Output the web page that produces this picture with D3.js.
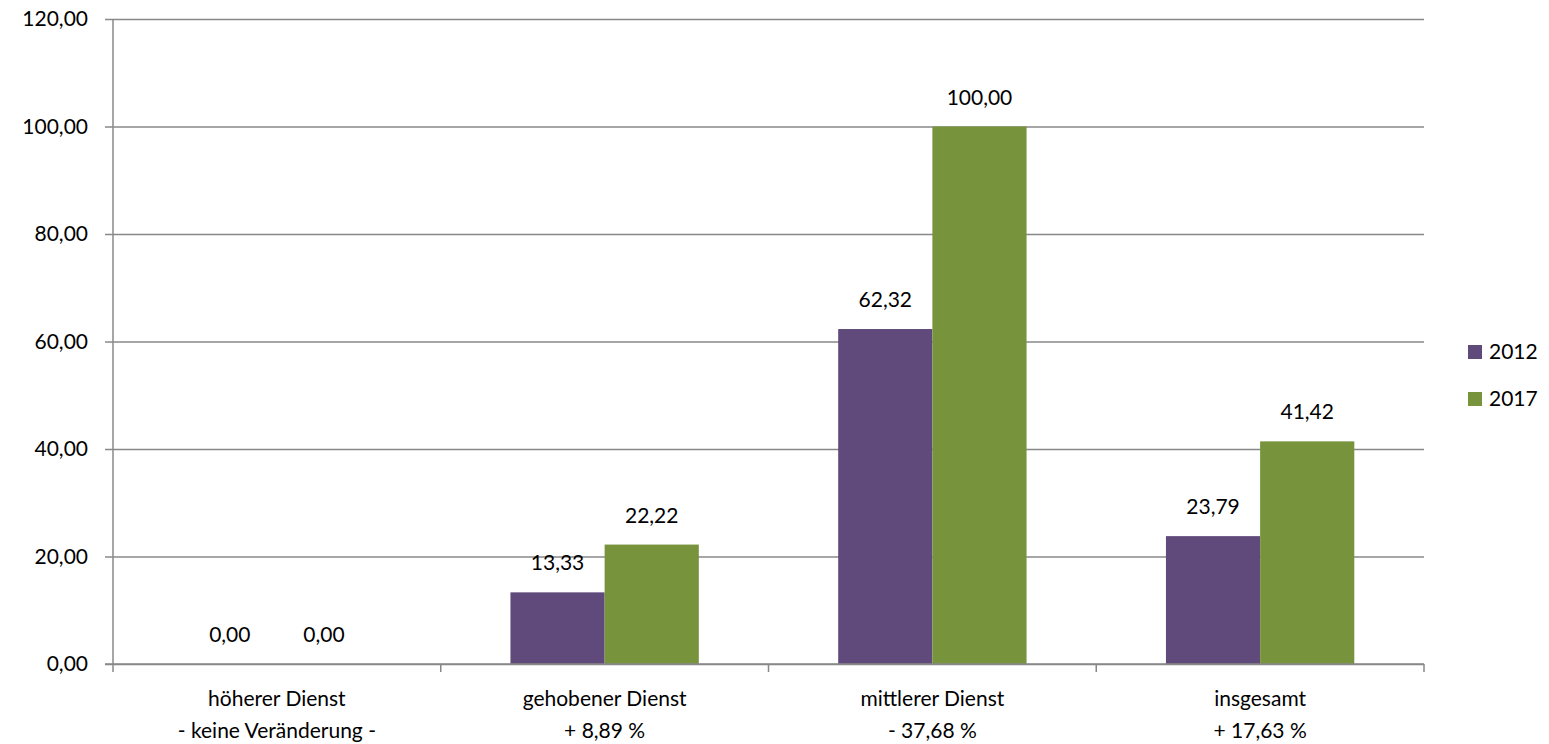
<!DOCTYPE html>
<html>
<head>
<meta charset="utf-8">
<script src="https://cdn.jsdelivr.net/npm/d3@7"></script>
<style>
  body { margin: 0; background: #fff; }
  text { font-family: Lato, "Open Sans", sans-serif; fill: #000; }
</style>
</head>
<body>
<svg id="chart"></svg>
<script>
const categories = [
    ["höherer Dienst", "- keine Veränderung -"],
    ["gehobener Dienst", "+ 8,89 %"],
    ["mittlerer Dienst", "- 37,68 %"],
    ["insgesamt", "+ 17,63 %"]
]
const years = ["2012", "2017"]
const values2012 = [0.00, 13.33, 62.32, 23.79]
const values2017 = [0.00, 22.22, 100.00, 41.42]
const yTicks = [0, 20, 40, 60, 80, 100, 120]
const colors = ["#604a7b", "#77933c"]

const svgWidth = 1549
const svgHeight = 744
const margin = ({top: 19, right: 125, bottom: 80, left: 113})
const width = svgWidth - margin.left - margin.right
const height = svgHeight - margin.top - margin.bottom
const fontSize = "21px"

const fmt = v => v.toFixed(2).replace(".", ",")

const svg = d3.select("#chart")
    .attr("width", svgWidth)
    .attr("height", svgHeight)

const g = svg.append("g")
    .attr("transform", `translate(${margin.left}, ${margin.top})`)

const xScale = d3.scaleBand()
    .domain(d3.range(categories.length))
    .range([0, width])

const inner = d3.scaleBand()
    .domain(years)
    .range([0, xScale.bandwidth()])
    .paddingOuter(0.74)

const yScale = d3.scaleLinear()
    .domain([0, 120])
    .range([height, 0])

// gridlines + y ticks
g.append("g")
    .call(d3.axisLeft(yScale).tickValues(yTicks).tickSize(-width - 8).tickFormat(fmt))
    .call(a => a.select(".domain").remove())
    .call(a => a.selectAll("line").attr("x1", -8).attr("x2", width).attr("stroke", "#888").attr("stroke-width", 1.5))
    .call(a => a.selectAll("text").attr("x", -25).style("font-size", fontSize).style("font-family", "Lato, sans-serif"))

// y axis line
g.append("line")
    .attr("x1", 0).attr("x2", 0)
    .attr("y1", 0).attr("y2", height)
    .attr("stroke", "#888").attr("stroke-width", 1.5)

const series = [values2012, values2017]

const groups = g.selectAll(".cat")
    .data(categories)
    .join("g")
    .attr("class", "cat")
    .attr("transform", (d, i) => `translate(${xScale(i)}, 0)`)

years.forEach((yr, s) => {
    groups.append("rect")
        .attr("x", inner(yr))
        .attr("width", inner.bandwidth())
        .attr("y", (d, i) => yScale(series[s][i]))
        .attr("height", (d, i) => height - yScale(series[s][i]))
        .attr("fill", colors[s])

    groups.append("text")
        .attr("x", inner(yr) + inner.bandwidth() / 2)
        .attr("y", (d, i) => yScale(series[s][i]) - 22)
        .attr("text-anchor", "middle")
        .style("font-size", fontSize)
        .text((d, i) => fmt(series[s][i]))
})

// x axis line and ticks
g.append("line")
    .attr("x1", -8).attr("x2", width)
    .attr("y1", height).attr("y2", height)
    .attr("stroke", "#888").attr("stroke-width", 1.5)

g.selectAll(".xtick")
    .data(d3.range(categories.length + 1))
    .join("line")
    .attr("class", "xtick")
    .attr("x1", i => i * xScale.step()).attr("x2", i => i * xScale.step())
    .attr("y1", height).attr("y2", height + 8)
    .attr("stroke", "#888").attr("stroke-width", 1.5)

// category labels
groups.each(function(d) {
    const t = d3.select(this).append("text")
        .attr("text-anchor", "middle")
        .style("font-size", fontSize)
    d.forEach((line, k) => {
        t.append("tspan")
            .attr("x", xScale.bandwidth() / 2)
            .attr("y", height + 42 + k * 32)
            .text(line)
    })
})

// legend
const legend = svg.append("g")
    .attr("transform", "translate(1468, 345)")

years.forEach((yr, s) => {
    legend.append("rect")
        .attr("x", 0).attr("y", s * 47)
        .attr("width", 14).attr("height", 14)
        .attr("fill", colors[s])
    legend.append("text")
        .attr("x", 21).attr("y", s * 47 + 14)
        .style("font-size", fontSize)
        .text(yr)
})
</script>
</body>
</html>
